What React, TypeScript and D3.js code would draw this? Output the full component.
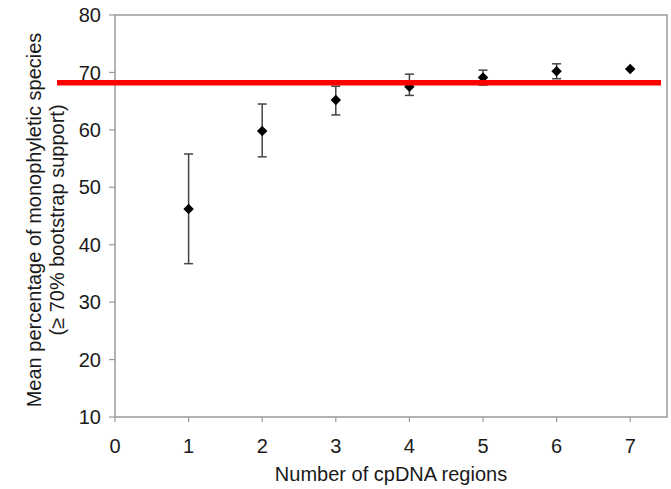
import React from "react";
import * as d3 from "d3";

const regions = [1, 2, 3, 4, 5, 6, 7];
const means = [46.2, 59.8, 65.2, 67.5, 69.1, 70.2, 70.6];
const upper = [55.8, 64.5, 67.6, 69.7, 70.4, 71.5, 70.6];
const lower = [36.7, 55.3, 62.6, 66.0, 67.8, 68.9, 70.6];
const xTicks = [0, 1, 2, 3, 4, 5, 6, 7];
const yTicks = [10, 20, 30, 40, 50, 60, 70, 80];
const threshold = [68.2];

const W = 671;
const H = 489;
const M = { left: 115, right: 4, top: 15, bottom: 72 };

export default function App() {
  const x = d3.scaleLinear().domain([0, 7.5]).range([M.left, W - M.right]);
  const y = d3.scaleLinear().domain([10, 80]).range([H - M.bottom, M.top]);
  const axisColor = "#999";
  const textColor = "#1a1a1a";
  const font = "Liberation Sans, Arial, sans-serif";
  const fs = 20;
  const diamond = d3.symbol().type(d3.symbolDiamond2).size(70)();
  return (
    <svg width={W} height={H} style={{ position: "absolute", left: 0, top: 0, background: "#fff" }} fontFamily={font}>
      <rect x={0} y={0} width={W} height={H} fill="#fff" />
      <rect x={x(0)} y={y(80)} width={x(7.5) - x(0)} height={y(10) - y(80)} fill="none" stroke={axisColor} strokeWidth={1.5} />
      {yTicks.map((t) => (
        <g key={"y" + t}>
          <line x1={x(0) - 6} x2={x(0)} y1={y(t)} y2={y(t)} stroke={axisColor} strokeWidth={1.2} />
          <text x={x(0) - 14} y={y(t)} dy="0.36em" textAnchor="end" fontSize={fs} fill={textColor}>{t}</text>
        </g>
      ))}
      {xTicks.map((t) => (
        <g key={"x" + t}>
          <line x1={x(t)} x2={x(t)} y1={y(10)} y2={y(10) + 5} stroke={axisColor} strokeWidth={1.2} />
          <text x={x(t)} y={y(10) + 36} textAnchor="middle" fontSize={fs} fill={textColor}>{t}</text>
        </g>
      ))}
      {regions.map((r, i) => (
        upper[i] !== lower[i] ? (
          <g key={"e" + r} stroke="#444" strokeWidth={1.5}>
            <line x1={x(r)} x2={x(r)} y1={y(upper[i])} y2={y(lower[i])} />
            <line x1={x(r) - 4.5} x2={x(r) + 4.5} y1={y(upper[i])} y2={y(upper[i])} />
            <line x1={x(r) - 4.5} x2={x(r) + 4.5} y1={y(lower[i])} y2={y(lower[i])} />
          </g>
        ) : null
      ))}
      {regions.map((r, i) => (
        <path key={"m" + r} d={diamond as string} transform={`translate(${x(r)},${y(means[i])})`} fill="#000" />
      ))}
      {threshold.map((v) => (
        <line key="thr" x1={57} x2={661} y1={y(v)} y2={y(v)} stroke="#ff0000" strokeWidth={5.5} />
      ))}
      <text x={(x(0) + x(7.5)) / 2} y={481} textAnchor="middle" fontSize={fs} fill={textColor}>Number of cpDNA regions</text>
      <g transform={`translate(41, 220) rotate(-90)`}>
        <text x={0} y={0} textAnchor="middle" fontSize={fs} fill={textColor}>Mean percentage of monophyletic species</text>
        <text x={0} y={23} textAnchor="middle" fontSize={fs} fill={textColor}>(≥ 70% bootstrap support)</text>
      </g>
    </svg>
  );
}
